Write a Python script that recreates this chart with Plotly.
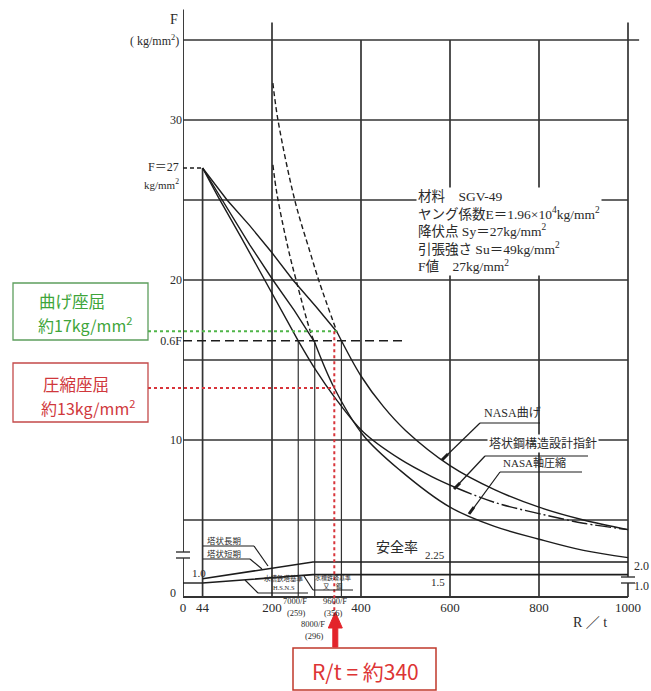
import plotly.graph_objects as go

# ---------------- data ----------------
R_ticks = [0, 44, 200, 400, 600, 800, 1000]
F_ticks = [10, 16.2, 20, 30]
F_tick_text = ["10", "0.6F", "20", "30"]
F_grid = [5, 10, 15, 20, 25, 30, 35]
R_grid = [44, 200, 400, 600, 800, 1000]

# NASA bending
bend_plastic_R = [44, 99, 150, 200, 247, 300, 346]
bend_plastic_F = [27, 25, 23.4, 21.7, 20, 18.3, 16.75]
bend_R = [346, 400, 450, 500, 600, 700, 800, 900, 1000]
bend_F = [16.75, 14.0, 12.1, 10.6, 8.4, 6.9, 5.8, 5.0, 4.4]
bend_elastic_R = [202, 214, 252, 286, 306, 346]
bend_elastic_F = [32.3, 29.9, 24.9, 21.7, 19.9, 16.75]

# NASA axial compression
axial_plastic_R = [44, 88, 150, 202, 250, 296]
axial_plastic_F = [27, 25, 22.2, 20, 18.1, 16.1]
axial_R = [296, 340, 405, 488, 600, 700, 800, 900, 1000]
axial_F = [16.1, 13.25, 10.3, 8.1, 5.8, 4.6, 3.8, 3.1, 2.65]
axial_elastic_R = [202, 211, 236, 256, 286, 297]
axial_elastic_F = [27.2, 25.4, 22.0, 19.8, 16.8, 16.0]

# Tower steel structure design guideline
guide_plastic_R = [44, 79, 130, 183, 220, 259]
guide_plastic_F = [27, 25.2, 22.7, 20, 18.2, 16.2]
guide_R = [259, 300, 340, 405, 488, 560, 615]
guide_F = [16.2, 14.3, 12.7, 10.5, 8.8, 7.7, 7.0]
guide_tail_R = [615, 700, 800, 900, 1000]
guide_tail_F = [7.0, 6.1, 5.4, 4.8, 4.4]

# safety factors (bottom strip)
sf_long_R = [44, 292, 1000]
sf_long = [1.25, 2.25, 2.25]
sf_short_R = [44, 292, 1000]
sf_short = [1.0, 1.5, 1.5]
sf_base_R = [0, 44]
sf_base = [1.0, 1.0]

F_value = 27
F_06 = 16.2
limit_R = [259, 296, 356]
Rt_sel = 340
bend_sel = 16.8
axial_sel = 13.25

# ---------------- geometry helpers ----------------
ML, MR, MT, MB = 183, 11, 8, 93
W, H = 651, 691
PW, PH = W - ML - MR, H - MT - MB
KX = 0.445          # px per R/t unit
XR = [0, PW / KX]
YR = [(600 - (H - MB)) / 16, (600 - MT) / 16]
Y2R = [1 + (583 - (H - MB)) / 16.8, 1 + (583 - MT) / 16.8]


def px(x):
    return (x - ML) / PW


def py(y):
    return (H - MB - y) / PH


def pseg(x0, y0, x1, y1, color="#333", width=1.2, dash=None):
    d = dict(type="line", xref="paper", yref="paper", x0=px(x0), y0=py(y0),
             x1=px(x1), y1=py(y1), line=dict(color=color, width=width))
    if dash:
        d["line"]["dash"] = dash
    return d


GRID = "#333333"
INK = "#1c1c1c"
SERIF = "Liberation Serif, DejaVu Serif, Noto Sans CJK JP"
CJK = "Noto Sans CJK JP, Noto Sans"

fig = go.Figure()


def line(xs, ys, dash=None, shape="linear", width=1.4, yaxis="y", color=INK):
    fig.add_trace(go.Scatter(x=xs, y=ys, mode="lines", yaxis=yaxis,
                             line=dict(color=color, width=width, dash=dash,
                                       shape=shape),
                             hoverinfo="skip", showlegend=False))


line(bend_plastic_R, bend_plastic_F)
line(bend_R, bend_F, shape="spline")
line(bend_elastic_R, bend_elastic_F, dash="5px,3px", shape="spline")
line(axial_plastic_R, axial_plastic_F)
line(axial_R, axial_F, shape="spline")
line(axial_elastic_R, axial_elastic_F, dash="5px,3px", shape="spline")
line(guide_plastic_R, guide_plastic_F)
line(guide_R, guide_F, shape="spline")
line(guide_tail_R, guide_tail_F, dash="16px,3px,2px,3px", shape="spline")
line(sf_long_R, sf_long, yaxis="y2", width=1.6)
line(sf_short_R, sf_short, yaxis="y2", width=1.6)
line(sf_base_R, sf_base, yaxis="y2", width=1.4)

shapes = []
# grid
top_of = {44: F_value, 200: 36.1, 400: 35, 600: 35, 800: 35, 1000: 36.1}
for r in R_grid:
    shapes.append(dict(type="line", xref="x", yref="y", x0=r, x1=r,
                       y0=YR[0] + 0.06, y1=top_of[r], layer="below",
                       line=dict(color=GRID, width=1.7)))
for f in F_grid:
    shapes.append(dict(type="line", xref="x", yref="y", x0=0,
                       x1=1025 if f == 35 else 1000, y0=f, y1=f,
                       layer="below", line=dict(color=GRID, width=1.7)))
# axes
shapes.append(dict(type="line", xref="x", yref="y", x0=0, x1=0,
                   y0=YR[0] + 0.06, y1=36.9, layer="below",
                   line=dict(color=GRID, width=1.9)))
shapes.append(dict(type="line", xref="x", yref="y", x0=0, x1=1000,
                   y0=YR[0] + 0.06, y1=YR[0] + 0.06, layer="below",
                   line=dict(color=GRID, width=1.9)))
# 0.6F limit line and F=27 stub
shapes.append(dict(type="line", xref="x", yref="y", x0=0, x1=500, y0=F_06,
                   y1=F_06, line=dict(color=INK, width=1.4, dash="9px,5px")))
shapes.append(dict(type="line", xref="x", yref="y", x0=0, x1=44,
                   y0=F_value, y1=F_value,
                   line=dict(color=INK, width=1.4, dash="4px,3px")))
# limit verticals (7000/F, 8000/F, 9600/F)
for r in limit_R:
    shapes.append(dict(type="line", xref="x", yref="y", x0=r, x1=r,
                       y0=YR[0] + 0.06, y1=F_06, layer="below",
                       line=dict(color=GRID, width=1.2)))
# axis breaks
for (bx, by) in [(183, 555), (628, 580)]:
    shapes.append(dict(type="rect", xref="paper", yref="paper",
                       x0=px(bx - 3), x1=px(bx + 3), y0=py(by + 3),
                       y1=py(by - 3), fillcolor="white",
                       line=dict(width=0)))
    shapes.append(pseg(bx - 7, by - 3, bx + 7, by - 3, GRID, 1.4))
    shapes.append(pseg(bx - 7, by + 3, bx + 7, by + 3, GRID, 1.4))

# green / red highlight lines
GREEN = "#4fb548"
RED = "#d8343a"
shapes.append(dict(type="line", xref="paper", yref="y", x0=px(148),
                   x1=px(ML + (Rt_sel + 6) * KX), y0=bend_sel, y1=bend_sel,
                   line=dict(color=GREEN, width=2, dash="dot")))
shapes.append(dict(type="line", xref="paper", yref="y", x0=px(148),
                   x1=px(ML + Rt_sel * KX), y0=axial_sel, y1=axial_sel,
                   line=dict(color=RED, width=2, dash="dot")))
shapes.append(dict(type="line", xref="x", yref="paper", x0=Rt_sel,
                   x1=Rt_sel, y0=py(600 - 16 * bend_sel), y1=py(616),
                   line=dict(color=RED, width=2, dash="dot")))
# annotation boxes
shapes.append(dict(type="rect", xref="paper", yref="paper", x0=px(13),
                   x1=px(148), y0=py(340), y1=py(283),
                   line=dict(color="#5d9e5d", width=1.3)))
shapes.append(dict(type="rect", xref="paper", yref="paper", x0=px(13),
                   x1=px(148), y0=py(422), y1=py(363),
                   line=dict(color="#c44a4a", width=1.3)))
shapes.append(dict(type="rect", xref="paper", yref="paper", x0=px(293),
                   x1=px(436), y0=py(690), y1=py(648),
                   line=dict(color="#c0392b", width=1.5)))
# red arrow
ax = ML + Rt_sel * KX + 1
shapes.append(dict(type="path", xref="paper", yref="paper",
                   path=(f"M {px(ax-2.5)} {py(647)} L {px(ax-2.5)} {py(628)} "
                         f"L {px(ax-7)} {py(628)} L {px(ax)} {py(612)} "
                         f"L {px(ax+7)} {py(628)} L {px(ax+2.5)} {py(628)} "
                         f"L {px(ax+2.5)} {py(647)} Z"),
                   fillcolor="#e3242b", line=dict(color="#e3242b", width=1)))
# leaders for curve labels
shapes += [
    pseg(480, 423, 540, 423, INK, 1.2), pseg(480, 423, 443, 459, INK, 1.2),
    pseg(448, 454, 442, 460, INK, 3),
    pseg(485, 456, 588, 456, INK, 1.2), pseg(485, 456, 455, 488, INK, 1.2),
    pseg(460, 483, 454, 489, INK, 3),
    pseg(500, 472, 582, 472, INK, 1.2), pseg(500, 472, 470, 513, INK, 1.2),
    pseg(474, 507, 469, 514, INK, 3),
    # bottom strip labels
    pseg(203, 546, 254, 546, INK, 1.2), pseg(254, 546, 268, 566, INK, 1.2),
    pseg(203, 559, 250, 559, INK, 1.2), pseg(250, 559, 262, 569, INK, 1.2),
    pseg(258, 593, 308, 593, INK, 1.2), pseg(258, 593, 245, 580, INK, 1.2),
    pseg(313, 590, 353, 590, INK, 1.2), pseg(313, 590, 304, 576, INK, 1.2),
]

ann = []


def text(x, y, s, size=12, color="#2a2a2a", family=SERIF, xanchor="center",
         yanchor="middle", bg=None, align="left"):
    a = dict(xref="paper", yref="paper", x=px(x), y=py(y), text=s,
             showarrow=False, xanchor=xanchor, yanchor=yanchor, align=align,
             font=dict(size=size, color=color, family=family))
    if bg:
        a["bgcolor"] = bg
    ann.append(a)


text(180, 19, "F", 14, xanchor="right")
text(181, 40, "( kg/mm<sup>2</sup>)", 12, xanchor="right")
text(181, 167, "F＝27", 12, xanchor="right")
text(181, 184, "kg/mm<sup>2</sup>", 11, xanchor="right")
text(178, 593, "0", 12, xanchor="right")
text(190, 573, "1.0", 11, xanchor="left")
text(632, 566, "2.0", 12, xanchor="left")
text(632, 586, "1.0", 12, xanchor="left")
text(590, 623, "R ／ t", 14)
text(416, 231,
     "材料　SGV-49<br>ヤング係数E＝1.96×10<sup>4</sup>kg/mm<sup>2</sup><br>"
     "降伏点 Sy＝27kg/mm<sup>2</sup><br>引張強さ Su＝49kg/mm<sup>2</sup><br>"
     "F値　27kg/mm<sup>2</sup>", 13.5, xanchor="left", bg="white")
text(482, 413, "NASA曲げ", 12, xanchor="left")
text(487, 443, "塔状鋼構造設計指針", 12, xanchor="left", bg="white")
text(501, 463, "NASA軸圧縮", 11, xanchor="left")
text(397, 546, "安全率", 14, family=CJK)
text(447, 555, "2.25", 11, xanchor="right")
text(447, 582, "1.5", 11, xanchor="right")
text(205, 540, "塔状長期", 8.5, xanchor="left", family=CJK)
text(205, 553, "塔状短期", 8.5, xanchor="left", family=CJK)
text(284, 578, "水槽鉄塔基準", 6.5, family=CJK)
text(284, 587, "H.S.N.S", 6.5)
text(333, 577, "水槽鉄塔基準", 6, family=CJK)
text(333, 586, "又　鋼", 6.5, family=CJK)
text(295, 601, "7000/F", 8.5)
text(296, 613, "(259)", 8.5)
text(335, 601, "9600/F", 8.5)
text(333, 613, "(356)", 8.5)
text(313, 624, "8000/F", 8.5)
text(314, 636, "(296)", 8.5)
text(72, 301, "曲げ座屈", 16.5, color="#3ea53a", family=CJK)
text(85, 324, "約17kg/mm<sup>2</sup>", 16, color="#3ea53a", family=CJK)
text(76, 384, "圧縮座屈", 16.5, color="#d0383c", family=CJK)
text(88, 407, "約13kg/mm<sup>2</sup>", 16, color="#d0383c", family=CJK)
text(365, 671, "R/t = 約340", 21, color="#dd3434", family=CJK)

fig.update_layout(
    width=W, height=H, margin=dict(l=ML, r=MR, t=MT, b=MB, pad=0),
    paper_bgcolor="white", plot_bgcolor="white",
    shapes=shapes, annotations=ann, showlegend=False,
    xaxis=dict(range=XR, tickvals=R_ticks, ticktext=[str(v) for v in R_ticks],
               showgrid=False, zeroline=False, showline=False, ticks="",
               tickfont=dict(family=SERIF, size=13, color="#2a2a2a"),
               fixedrange=True),
    yaxis=dict(range=YR, tickvals=F_ticks, ticktext=F_tick_text,
               showgrid=False, zeroline=False, showline=False, ticks="",
               tickfont=dict(family=SERIF, size=12, color="#2a2a2a"),
               fixedrange=True),
    yaxis2=dict(range=Y2R, overlaying="y", visible=False, fixedrange=True),
)

fig.write_html("out.html", config={"displayModeBar": False},
               post_script="document.body.style.margin='0';")
